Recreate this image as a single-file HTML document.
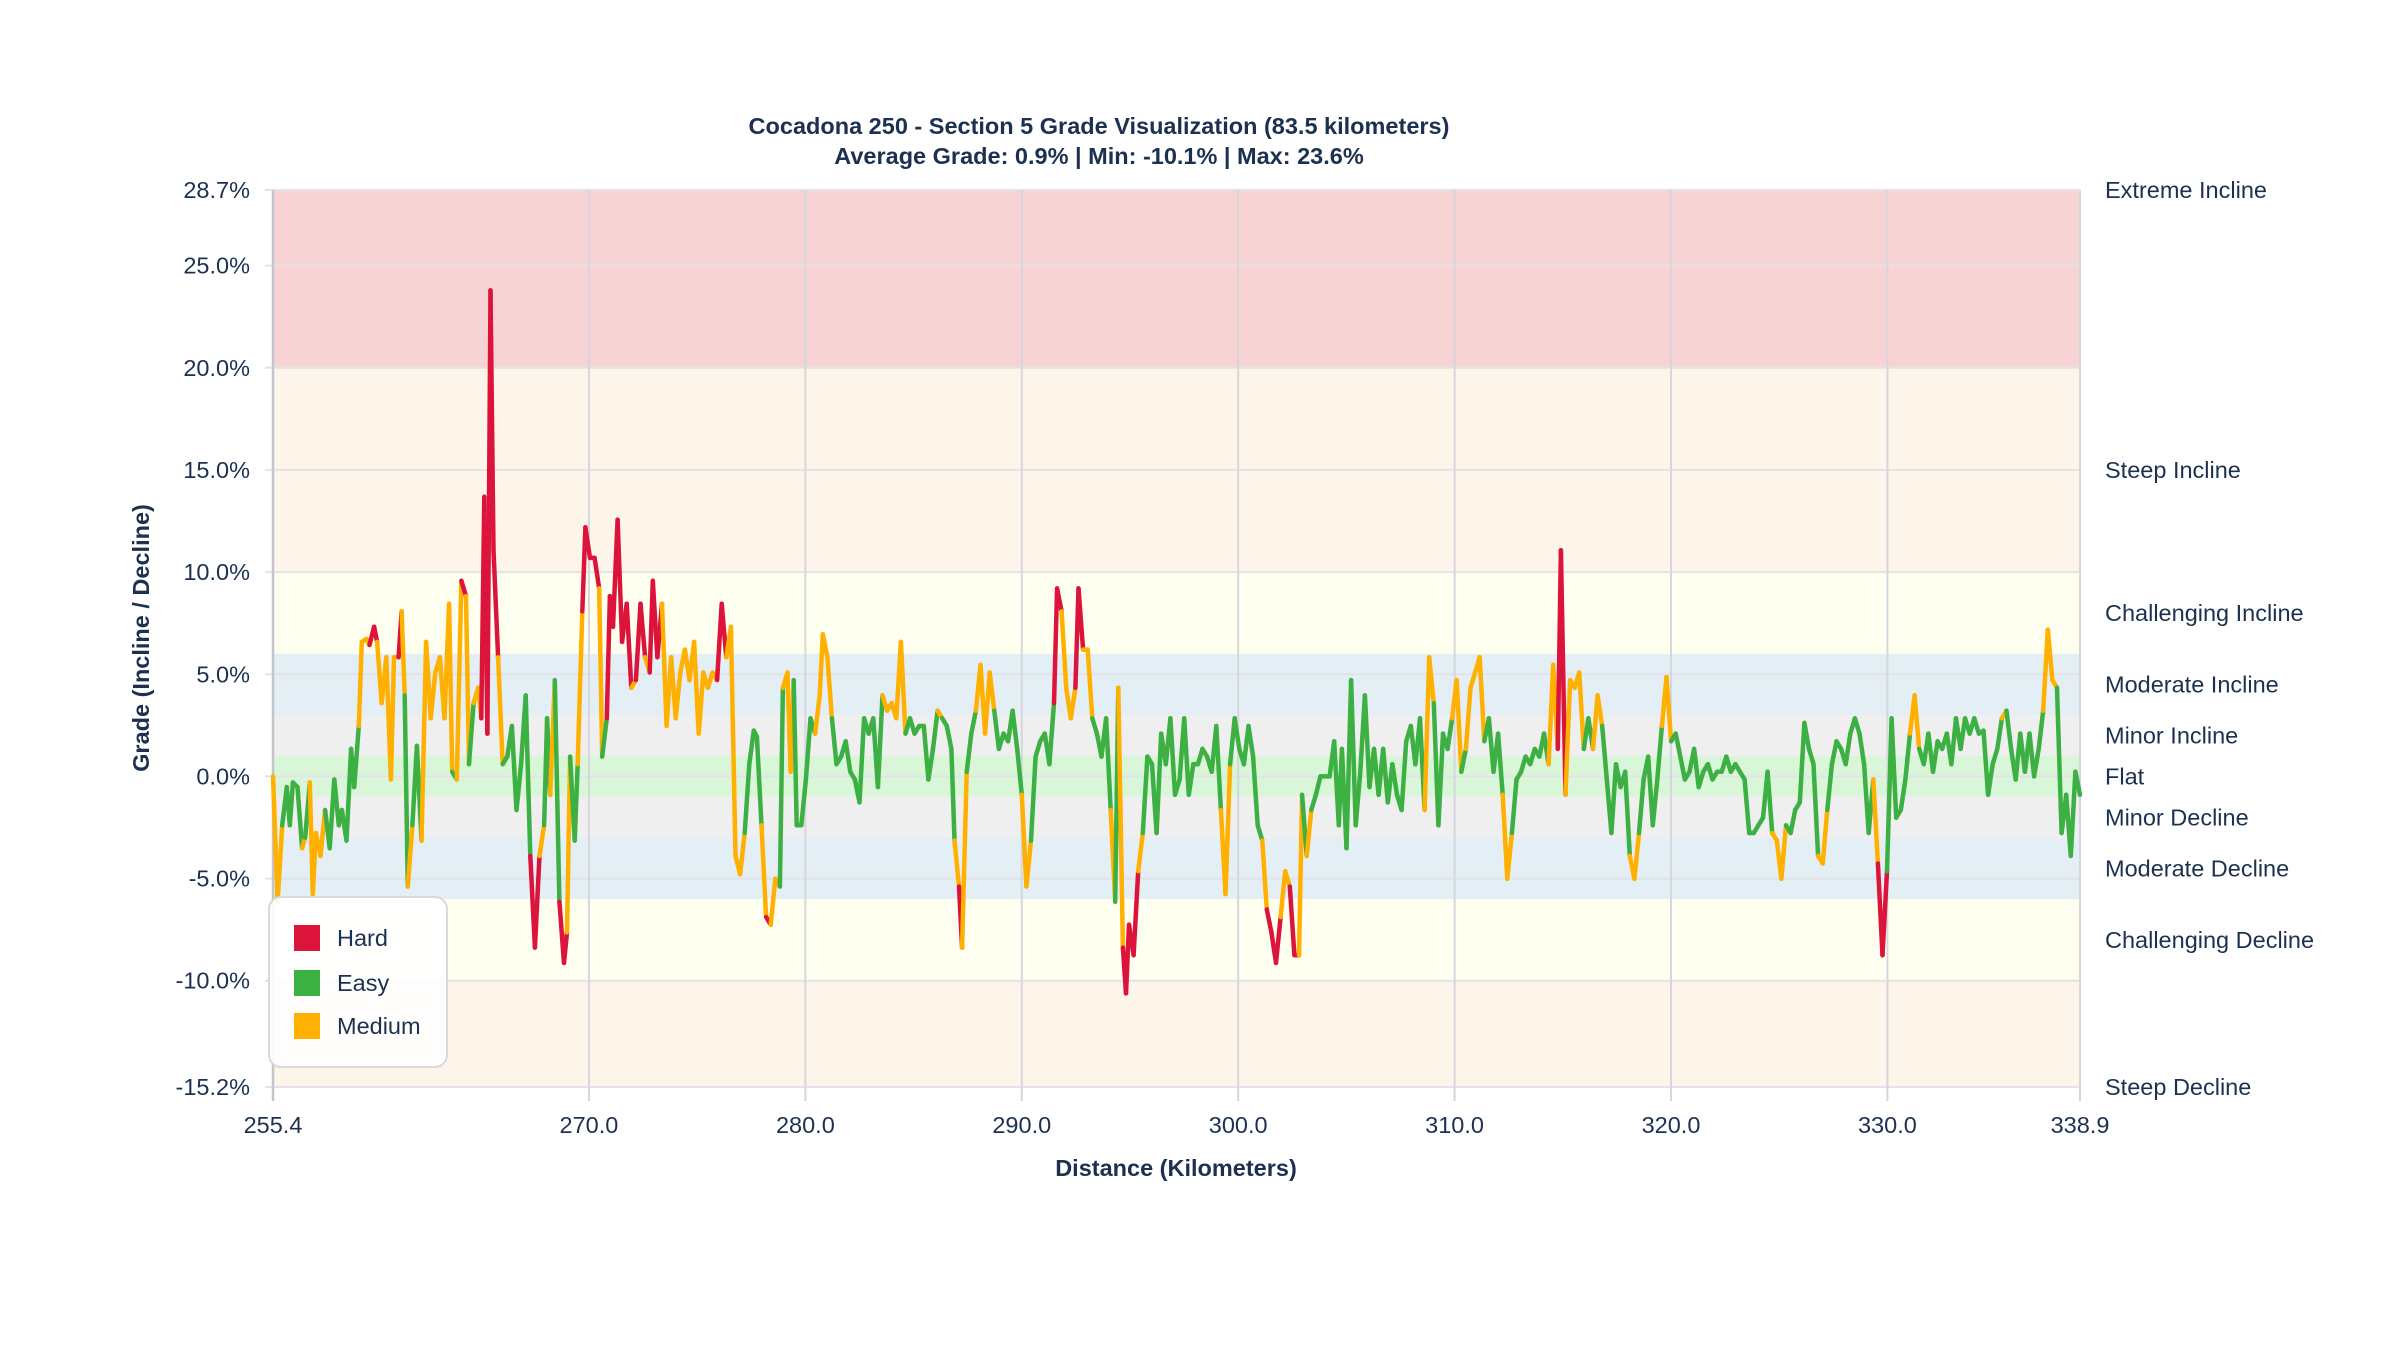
<!DOCTYPE html>
<html><head><meta charset="utf-8"><style>
body{margin:0;background:#fff;}
svg text{font-family:"Liberation Sans",Arial,sans-serif;fill:#1c3150;}
</style></head><body>
<svg id="s" width="2400" height="1350" xmlns="http://www.w3.org/2000/svg"></svg>
<script>
const s=document.getElementById('s');
const L=273,R=2080,T=190,B=1087,K0=255.4,K1=338.9,G0=28.7,G1=-15.2;
const X=k=>L+(k-K0)/(K1-K0)*(R-L), Y=g=>T+(G0-g)/(G0-G1)*(B-T);
let h='';
const bands=[[20,28.7,'#f8d3d3'],[10,20,'#fdf5e9'],[6,10,'#fffff0'],[3,6,'#e3eff5'],[1,3,'#efefef'],[-1,1,'#d9f6d9'],[-3,-1,'#efefef'],[-6,-3,'#e3eff5'],[-10,-6,'#fffff0'],[-15.2,-10,'#fdf5e9']];
for(const b of bands)h+=`<rect x="${L}" y="${Y(b[1])}" width="${R-L}" height="${Y(b[0])-Y(b[1])}" fill="${b[2]}"/>`;
const yt=[28.7,25,20,15,10,5,0,-5,-10,-15.2];
for(const g of yt){h+=`<line x1="${L-8}" x2="${R}" y1="${Y(g)}" y2="${Y(g)}" stroke="#e2e2e8" stroke-width="2"/>`;
h+=`<text x="250" y="${Y(g)+8}" font-size="23.5" text-anchor="end">${g.toFixed(1)}%</text>`;}
const xt=[255.4,270,280,290,300,310,320,330,338.9];
for(const k of xt){h+=`<line x1="${X(k)}" x2="${X(k)}" y1="${T}" y2="${B+14}" stroke="#d6d6dc" stroke-width="2"/>`;
h+=`<text x="${X(k)}" y="1133" font-size="23.5" text-anchor="middle">${k.toFixed(1)}</text>`;}
h+=`<line x1="${L}" x2="${L}" y1="${T}" y2="${B+14}" stroke="#c4c4cc" stroke-width="2.5"/>`;
const d=[178,508,181,590,184,540,187,515,189,540,191,512,194,515,197,555,199,548,202,512,204,585,206,545,209,560,212,530,215,555,218,510,221,540,223,530,226,550,229,490,231,515,234,475,236,420,239,418,241,422,244,410,246,420,249,460,252,430,255,510,257,430,260,430,262,400,264,455,266,580,269,540,272,488,275,550,278,420,281,470,284,440,287,430,290,470,293,395,295,505,298,510,301,380,304,390,306,500,309,460,312,450,314,470,316,325,318,480,320,190,322,360,325,430,328,500,331,495,334,475,337,530,340,500,343,455,346,560,349,620,352,560,355,540,357,470,359,520,362,445,365,590,368,630,370,610,372,495,375,550,377,500,380,400,382,345,385,365,388,365,391,385,393,495,396,470,398,390,400,410,403,340,406,420,409,395,412,450,415,445,418,395,421,430,424,440,426,380,429,430,432,395,435,475,438,430,441,470,444,440,447,425,450,445,453,420,456,480,459,440,462,450,465,440,468,445,471,395,474,430,477,410,480,560,483,572,486,545,489,500,492,478,494,482,497,540,500,600,503,605,506,575,509,580,511,450,514,440,516,505,518,445,520,540,523,540,526,510,529,470,532,480,535,455,537,415,540,430,543,470,546,500,549,495,552,485,555,505,558,510,561,525,564,470,567,480,570,470,573,515,576,455,579,465,582,460,585,470,588,420,591,480,594,470,597,480,600,475,603,475,606,510,609,490,612,465,615,470,618,475,621,490,623,550,626,580,628,620,631,505,634,480,637,465,640,435,643,480,646,440,649,465,652,490,655,480,658,485,661,465,664,490,667,520,670,580,673,550,676,495,679,485,682,480,685,500,688,460,690,385,693,400,696,450,699,470,702,450,704,385,707,425,710,425,713,470,716,480,719,495,722,470,725,530,728,590,730,450,733,620,735,650,737,605,740,625,743,570,746,545,749,495,752,500,755,545,758,480,761,500,764,470,767,520,770,510,773,470,776,520,779,500,782,500,785,490,788,495,791,505,794,475,797,530,800,585,803,500,806,470,809,490,812,500,815,475,818,495,821,540,824,550,827,595,830,610,833,630,836,600,839,570,842,580,845,625,848,625,850,520,853,560,856,530,859,520,862,508,865,508,868,508,871,485,874,540,876,490,879,555,882,445,885,540,888,505,891,455,894,515,897,490,900,520,903,490,906,525,909,500,912,520,915,530,918,485,921,475,924,500,927,470,930,530,933,430,936,460,939,540,942,480,945,490,948,470,951,445,954,505,957,490,960,450,963,440,966,430,969,485,972,470,975,505,978,480,981,520,984,575,987,545,990,510,993,505,996,495,999,500,1002,490,1005,495,1008,480,1011,500,1014,435,1017,490,1019,360,1022,520,1025,445,1028,450,1031,440,1034,490,1037,470,1040,490,1043,455,1046,475,1049,510,1052,545,1055,500,1058,515,1061,505,1064,560,1067,575,1070,545,1073,510,1076,495,1079,540,1082,510,1085,475,1088,443,1091,485,1094,480,1097,495,1100,510,1103,505,1106,490,1109,515,1112,505,1115,500,1118,510,1121,505,1124,505,1127,495,1130,505,1133,500,1136,505,1139,510,1142,545,1145,545,1148,540,1151,535,1154,505,1157,545,1160,550,1163,575,1166,540,1169,545,1172,530,1175,525,1178,473,1181,490,1184,500,1187,560,1190,565,1193,530,1196,500,1199,485,1202,490,1205,500,1208,480,1211,470,1214,480,1217,500,1220,545,1223,510,1226,565,1229,625,1232,570,1235,470,1238,535,1241,530,1244,510,1247,480,1250,455,1253,490,1256,500,1259,480,1262,505,1265,485,1268,490,1271,480,1274,500,1277,470,1280,490,1283,470,1286,480,1289,470,1292,480,1295,478,1298,520,1301,500,1304,490,1307,470,1310,465,1313,490,1316,510,1319,480,1322,505,1325,480,1328,508,1331,490,1334,465,1337,412,1340,445,1343,450,1346,545,1349,520,1352,560,1355,505,1358,520];
const pts=[];
for(let i=0;i<d.length;i+=2){const k=K0+(d[i]-178)/1180*(K1-K0);const g=(508-d[i+1])/13.37;pts.push([X(k),Y(g),g]);}
function col(g){const a=Math.abs(g);return a>=7?'#dc143c':a>=3?'#ffb000':'#3cb043';}
for(let i=0;i<pts.length-1;i++){const a=pts[i],b=pts[i+1];const g=(Math.abs(a[2])>Math.abs(b[2])?a[2]:b[2]);
h+=`<line x1="${a[0].toFixed(1)}" y1="${a[1].toFixed(1)}" x2="${b[0].toFixed(1)}" y2="${b[1].toFixed(1)}" stroke="${col((a[2]+b[2])/2*0.6+g*0.4)}" stroke-width="4.5" stroke-linecap="round"/>`;}
const rl=[['Extreme Incline',28.7],['Steep Incline',15],['Challenging Incline',8],['Moderate Incline',4.5],['Minor Incline',2],['Flat',0],['Minor Decline',-2],['Moderate Decline',-4.5],['Challenging Decline',-8],['Steep Decline',-15.2]];
for(const r of rl)h+=`<text x="2105" y="${Y(r[1])+8}" font-size="23.5">${r[0]}</text>`;
h+=`<text x="1099" y="134" font-size="23.5" font-weight="bold" text-anchor="middle">Cocadona 250 - Section 5 Grade Visualization (83.5 kilometers)</text>`;
h+=`<text x="1099" y="164" font-size="23.5" font-weight="bold" text-anchor="middle">Average Grade: 0.9% | Min: -10.1% | Max: 23.6%</text>`;
h+=`<text x="1176" y="1176" font-size="23.5" font-weight="bold" text-anchor="middle">Distance (Kilometers)</text>`;
h+=`<text transform="translate(149,638) rotate(-90)" font-size="23.5" font-weight="bold" text-anchor="middle">Grade (Incline / Decline)</text>`;
h+=`<rect x="269" y="897" width="178" height="170" rx="12" fill="#fff" fill-opacity="0.9" stroke="#d8d8de" stroke-width="2"/>`;
const lg=[['Hard','#dc143c',938],['Easy','#3cb043',983],['Medium','#ffb000',1026]];
for(const l of lg){h+=`<rect x="294" y="${l[2]-13}" width="26" height="26" fill="${l[1]}"/><text x="337" y="${l[2]+8}" font-size="23.5">${l[0]}</text>`;}
s.innerHTML=h;
</script>
</body></html>
